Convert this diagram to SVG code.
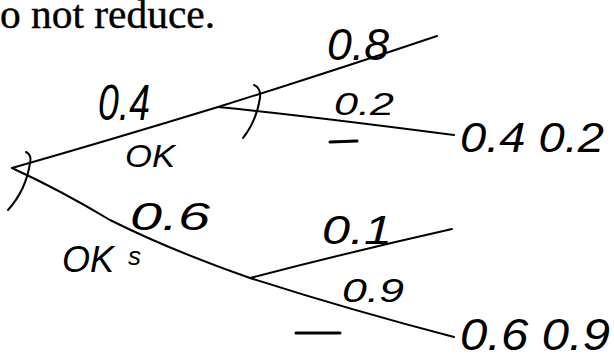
<svg xmlns="http://www.w3.org/2000/svg" width="614" height="360" viewBox="0 0 614 360">
<style>
.hw{font-family:"Liberation Sans","DejaVu Sans",sans-serif;font-style:italic;fill:#000}
.ln{fill:none;stroke:#000;stroke-width:2;stroke-linecap:round;stroke-linejoin:round}
.tk{fill:none;stroke:#000;stroke-width:3;stroke-linecap:round}
</style>
<rect width="614" height="360" fill="#fff"/>
<text x="0" y="28" font-family="Liberation Serif,serif" font-size="39" stroke="#000" stroke-width="0.4" textLength="215" lengthAdjust="spacingAndGlyphs">o not reduce.</text>
<g id="connectors">
<path class="ln" d="M12,168 Q110,140 218,107"/>
<path class="ln" d="M218,107 Q330,72 437,36"/>
<path class="ln" d="M218,107 Q300,115 454,135"/>
<path class="ln" d="M12,168 Q60,190 110,220 Q170,250 250,278"/>
<path class="ln" d="M250,278 Q350,252 452,229"/>
<path class="ln" d="M250,278 Q350,310 454,337"/>
</g>
<g id="root">
<path class="ln" d="M26,152 Q32,155 30,163 Q26,190 8,210"/>
<text class="hw" x="98" y="120" font-size="50" textLength="52" lengthAdjust="spacingAndGlyphs">0.4</text>
<text class="hw" x="125" y="167" font-size="31" textLength="50" lengthAdjust="spacingAndGlyphs">OK</text>
<text class="hw" x="130" y="230" font-size="38" textLength="80" lengthAdjust="spacingAndGlyphs">0.6</text>
<text class="hw" x="62" y="272" font-size="36" textLength="52" lengthAdjust="spacingAndGlyphs">OK</text>
<text class="hw" x="128" y="265" font-size="26">s</text>
</g>
<g id="knot1">
<path class="ln" d="M254,85 Q261,88 260,98 Q256,122 243,138"/>
<text class="hw" x="327" y="60" font-size="44" textLength="62" lengthAdjust="spacingAndGlyphs">0.8</text>
<text class="hw" x="334" y="115" font-size="31" textLength="60" lengthAdjust="spacingAndGlyphs">0.2</text>
<path class="tk" d="M330,142 L357,141"/>
</g>
<g id="leaf1">
<text class="hw" x="460" y="152" font-size="42" textLength="144" lengthAdjust="spacingAndGlyphs">0.4 0.2</text>
</g>
<g id="knot2">
<text class="hw" x="322" y="244" font-size="40" textLength="70" lengthAdjust="spacingAndGlyphs">0.1</text>
<text class="hw" x="342" y="302" font-size="34" textLength="62" lengthAdjust="spacingAndGlyphs">0.9</text>
<path class="tk" d="M296,333 L340,333"/>
</g>
<g id="leaf2">
<text class="hw" x="460" y="350" font-size="44" textLength="150" lengthAdjust="spacingAndGlyphs">0.6 0.9</text>
</g>
</svg>
